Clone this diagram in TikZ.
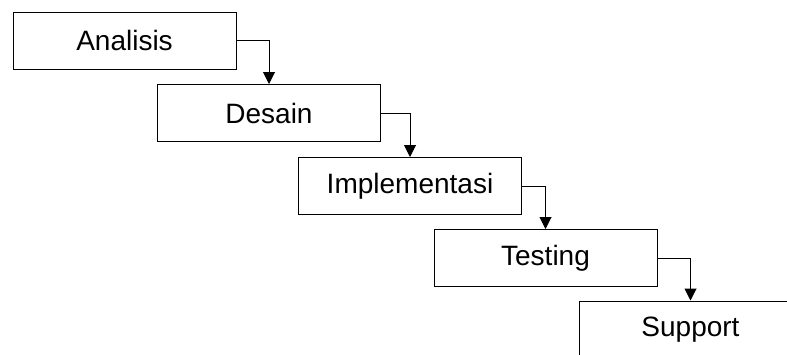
\documentclass[tikz,border=0pt]{standalone}
\usepackage{fontspec}
\setmainfont{Liberation Sans}
\usetikzlibrary{arrows.meta}
\begin{document}
\begin{tikzpicture}[x=1pt,y=-1pt,
  stage/.style={draw=black, line width=1pt, minimum width=223pt, minimum height=57pt,
    inner sep=0pt, font=\fontsize{28}{32}\selectfont},
  flow/.style={draw=black, line width=1pt, -{Triangle[width=12pt,length=12pt]}}]
  \useasboundingbox (0,0) rectangle (787,354);
  % waterfall stages
  \node[stage] (analisis) at (124.5,40.5) {Analisis};
  \node[stage] (desain) at (269,113) {Desain};
  \node[stage] (impl) at (410,186) {Implementasi};
  \node[stage] (testing) at (545.5,258) {Testing};
  \node[stage] (support) at (690.5,329.5) {Support};
  % connectors between stages
  \draw[flow] (analisis.east) -| (desain.north);
  \draw[flow] (desain.east) -| (impl.north);
  \draw[flow] (impl.east) -| (testing.north);
  \draw[flow] (testing.east) -| (support.north);
\end{tikzpicture}
\end{document}
